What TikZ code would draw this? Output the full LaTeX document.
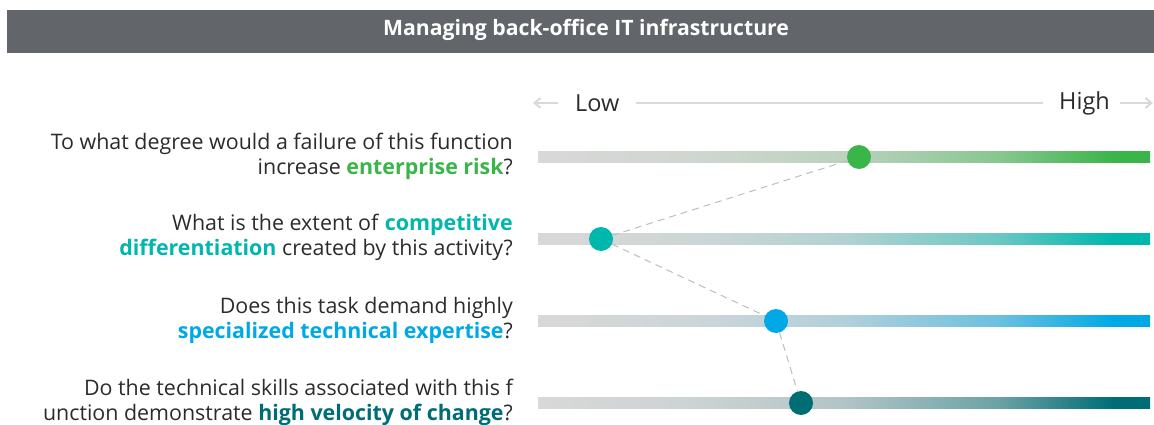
\documentclass[tikz,border=0pt]{standalone}
\usepackage{fontspec}
\setmainfont{Open Sans}
\usetikzlibrary{arrows.meta}

\definecolor{titlegray}{HTML}{62666B}
\definecolor{bargray}{HTML}{D8D8D8}
\definecolor{axisgray}{HTML}{D9D9D9}
\definecolor{dashgray}{HTML}{BDBDBD}
\definecolor{textgray}{HTML}{2B2B2B}
\definecolor{riskgreen}{HTML}{3AB54A}
\definecolor{diffteal}{HTML}{00B7AE}
\definecolor{expblue}{HTML}{00A9E6}
\definecolor{veldark}{HTML}{006D75}

\colorlet{barend}{riskgreen}
\pgfdeclarehorizontalshading[barend]{barshade}{100bp}{color(0bp)=(bargray); color(25bp)=(bargray); color(37.5bp)=(bargray!95!barend); color(50bp)=(bargray!82!barend); color(62.5bp)=(barend!50!bargray); color(72bp)=(barend); color(100bp)=(barend)}

\newcommand{\scalebar}[2]{\colorlet{barend}{#2}\shade[shading=barshade] (538,#1-5.5) rectangle (1150,#1+5.5);}

\tikzset{
  question/.style={anchor=east, align=right, text=textgray, font=\fontsize{21.4}{25}\selectfont, inner sep=0pt},
  axislabel/.style={text=textgray, font=\fontsize{23.5}{25}\selectfont, inner sep=0pt},
  axisline/.style={axisgray, line width=2.5pt},
  axisarrow/.style={axisgray, line width=2pt, -{Straight Barb[length=6pt,width=10pt]}},
  dot/.style={circle, minimum size=24pt, inner sep=0pt},
  dashline/.style={dashgray, line width=1pt, dash pattern=on 7pt off 5pt}
}

\begin{document}
\begin{tikzpicture}[x=1pt,y=1pt,yscale=-1]
\path[use as bounding box] (0,0) rectangle (1154,425);

% title bar
\fill[titlegray] (7,10) rectangle (1154,53);
\node[text=white, font=\fontsize{21.2}{22}\selectfont\bfseries] (title) at (586,30) {Managing back-office IT infrastructure};

% low / high axis
\node[axislabel, anchor=west] (low) at (575,103) {Low};
\node[axislabel, anchor=east] (high) at (1110,103) {High};
\coordinate (lowtip) at (533,103);
\coordinate (hightip) at (1153,103);
\draw[axisline] ([xshift=16pt]low.east) -- ([xshift=-16pt]high.west);
\draw[axisarrow] (558,103) -- (lowtip);
\draw[axisarrow] (1120,103) -- (hightip);

% bars
\scalebar{157}{riskgreen}
\scalebar{239}{diffteal}
\scalebar{321}{expblue}
\scalebar{403}{veldark}

% questions
\node[question] (qrisk) at (513,156.5) {To what degree would a failure of this function\\increase \textbf{\textcolor{riskgreen}{enterprise risk}}?};
\node[question] (qdiff) at (513,237.5) {What is the extent of \textbf{\textcolor{diffteal}{competitive}}\\\textbf{\textcolor{diffteal}{differentiation}} created by this activity?};
\node[question] (qexp) at (513,320.5) {Does this task demand highly\\\textbf{\textcolor{expblue}{specialized technical expertise}}?};
\node[question] (qvel) at (513,402) {Do the technical skills associated with this f\\unction demonstrate \textbf{\textcolor{veldark}{high velocity of change}}?};

% dots
\node[dot, fill=riskgreen] (riskdot) at (859,157) {};
\node[dot, fill=diffteal] (diffdot) at (601,239) {};
\node[dot, fill=expblue] (expdot) at (776,321) {};
\node[dot, fill=veldark] (veldot) at (801,403) {};

\draw[dashline] (riskdot) -- (diffdot);
\draw[dashline] (diffdot) -- (expdot);
\draw[dashline] (expdot) -- (veldot);

\end{tikzpicture}
\end{document}
